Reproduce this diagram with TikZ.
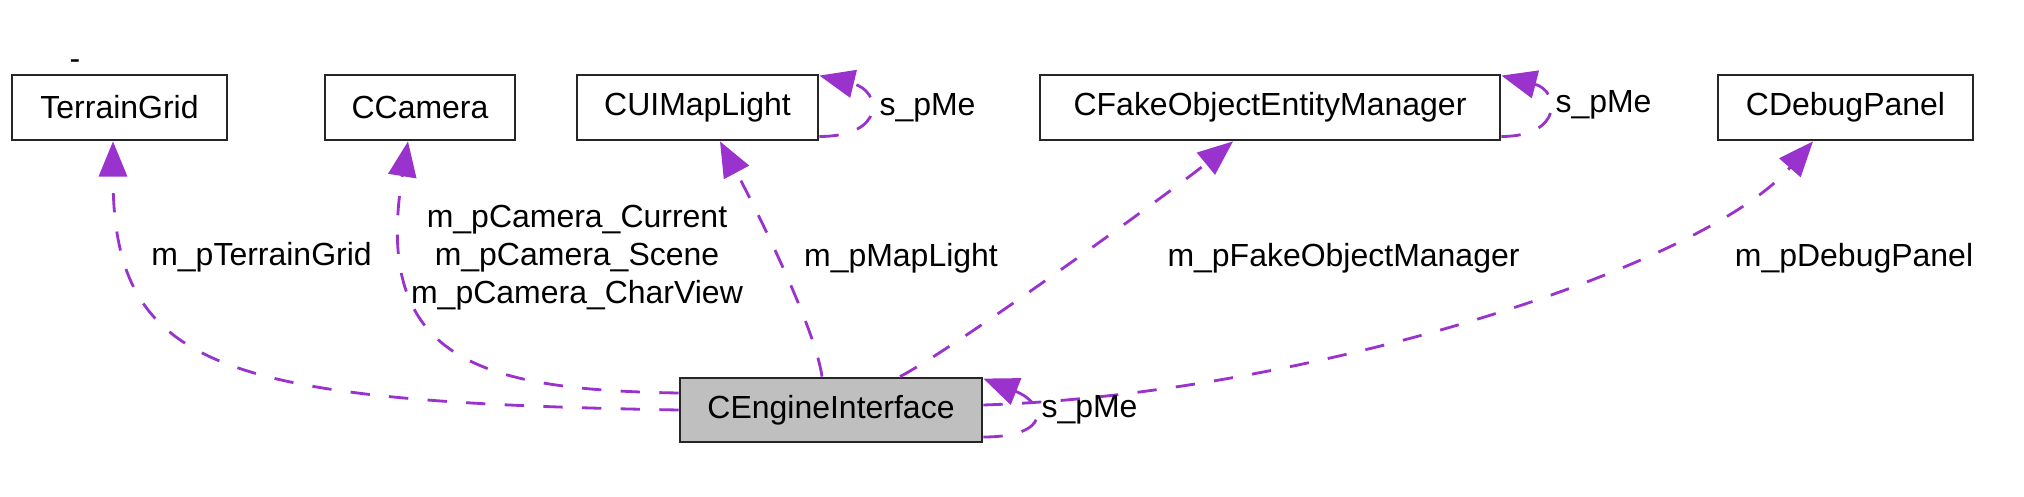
\documentclass[tikz,border=0pt]{standalone}
\usepackage{fontspec}
\setmainfont{Liberation Sans}
\usetikzlibrary{arrows.meta}
\definecolor{edgepurple}{HTML}{9A32CD}
\definecolor{boxgray}{HTML}{BFBFBF}
\tikzset{
  classbox/.style={draw=black!85, fill=white, line width=0.8pt, minimum height=0.65cm, inner sep=0pt, font=\fontsize{9.1}{10.8}\selectfont},
  edge/.style={draw=edgepurple, line width=0.8pt, dash pattern=on 5.5pt off 5.5pt, -{Triangle[length=10pt,width=8pt]}},
  lbl/.style={font=\fontsize{9.1}{10.8}\selectfont, inner sep=0pt, align=center}
}

\begin{document}
\begin{tikzpicture}
\useasboundingbox (0,0) rectangle (20.24,4.97);
% Draw the classes
\node[classbox, minimum width=2.15cm] (tg) at (1.195,3.895) {TerrainGrid};
\node[classbox, minimum width=1.90cm] (cam) at (4.20,3.895) {CCamera};
\node[classbox, minimum width=2.41cm] (map) at (6.975,3.895) {CUIMapLight};
\node[classbox, minimum width=4.60cm] (fake) at (12.70,3.895) {CFakeObjectEntityManager};
\node[classbox, minimum width=2.55cm] (dbg) at (18.455,3.895) {CDebugPanel};
\node[classbox, minimum width=3.02cm, minimum height=0.64cm, fill=boxgray] (eng) at (8.31,0.87) {CEngineInterface};
\node[lbl] (dash) at (0.75,4.32) {-};
% Draw the members
\draw[edge] (eng.west) .. controls (2.20,0.95) and (1.13,1.27) .. ([xshift=-0.065cm]tg.south);
\draw[edge] ([yshift=0.17cm]eng.west) .. controls (4.80,1.07) and (3.72,1.37) .. ([xshift=-0.12cm]cam.south);
\draw[edge] ([xshift=-0.09cm]eng.north) .. controls (8.15,1.70) and (7.55,2.90) .. ([xshift=0.225cm]map.south);
\draw[edge] ([xshift=0.69cm]eng.north) .. controls (9.60,1.52) and (11.80,3.12) .. ([xshift=-0.37cm]fake.south);
\draw[edge] ([yshift=0.05cm]eng.east) .. controls (13.00,1.02) and (17.00,2.27) .. ([xshift=-0.325cm]dbg.south);
% Self references
\draw[edge] ([yshift=-0.29cm]map.east) .. controls +(0.67,0) and +(0.62,-0.15) .. ([yshift=-0.02cm]map.north east);
\draw[edge] ([yshift=-0.29cm]fake.east) .. controls +(0.62,0) and +(0.58,-0.15) .. ([yshift=-0.02cm]fake.north east);
\draw[edge] ([yshift=-0.27cm]eng.east) .. controls +(0.68,0) and +(0.63,-0.25) .. ([yshift=-0.02cm]eng.north east);
% Labels
\node[lbl] (ltg) at (2.615,2.40) {m\_pTerrainGrid};
\node[lbl] (lcam) at (5.77,2.39) {m\_pCamera\_Current\\m\_pCamera\_Scene\\m\_pCamera\_CharView};
\node[lbl] (lmap) at (9.01,2.39) {m\_pMapLight};
\node[lbl] (lfake) at (13.435,2.39) {m\_pFakeObjectManager};
\node[lbl] (ldbg) at (18.54,2.39) {m\_pDebugPanel};
\node[lbl] (lmapme) at (9.275,3.89) {s\_pMe};
\node[lbl] (lfakeme) at (16.035,3.92) {s\_pMe};
\node[lbl] (lengme) at (10.895,0.87) {s\_pMe};
\end{tikzpicture}
\end{document}
